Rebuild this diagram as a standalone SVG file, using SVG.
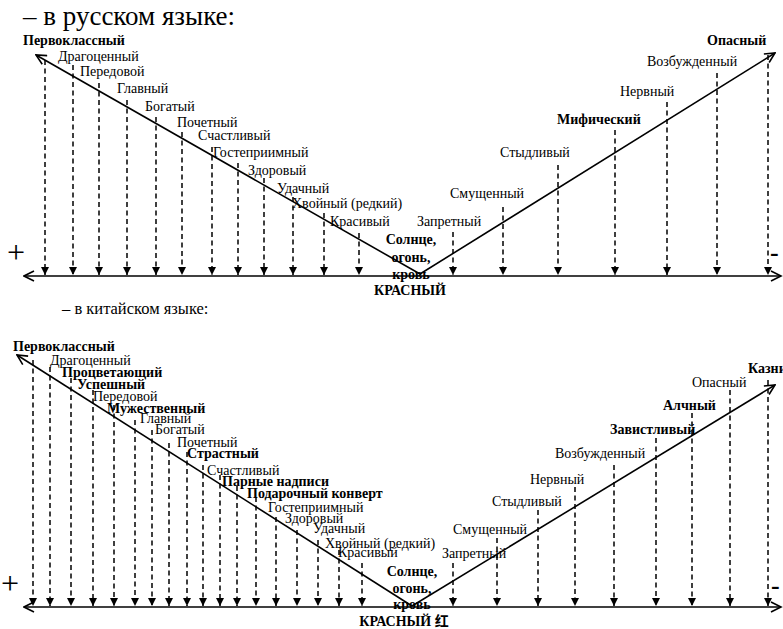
<svg xmlns="http://www.w3.org/2000/svg" width="783" height="629" viewBox="0 0 783 629">
<defs>
<marker id="tri" viewBox="0 0 10 10" refX="10" refY="5" markerWidth="9" markerHeight="8" markerUnits="userSpaceOnUse" orient="auto"><path d="M0,0 L10,5 L0,10 z" fill="#000"/></marker>
<marker id="open" viewBox="0 0 12 12" refX="11" refY="6" markerWidth="13" markerHeight="12" markerUnits="userSpaceOnUse" orient="auto-start-reverse"><path d="M1,1 L11,6 L1,11" fill="none" stroke="#000" stroke-width="1.6"/></marker>
</defs>
<style>
text{font-family:"Liberation Serif","Times New Roman",serif;fill:#000;font-size:14px}
.cjk{font-family:"Noto Sans CJK SC","Liberation Serif",serif}
.b{font-weight:bold}
.c{text-anchor:middle}
.pm{font-size:32px}
.d{stroke:#000;stroke-width:1.5;stroke-dasharray:5 3.5;marker-end:url(#tri)}
.s{stroke:#000;stroke-width:1.6;fill:none}
.a{marker-end:url(#open)}
.ax{marker-start:url(#open);marker-end:url(#open)}
</style>
<rect width="783" height="629" fill="#fff"/>
<text x="23" y="25" style="font-size:27px">– в русском языке:</text>
<text x="62" y="314" style="font-size:16.5px">– в китайском языке:</text>
<g id="connectors">
<line class="s ax" x1="24" y1="276" x2="781" y2="276"/>
<polyline class="s a" points="420,274 36,55"/>
<polyline class="s a" points="420,274 775,53"/>
<line class="s ax" x1="24" y1="607" x2="781" y2="607"/>
<polyline class="s a" points="412,606 17,355"/>
<polyline class="s a" points="412,606 775,385"/>
<g id="top-drops">
<line class="d" x1="45" y1="60" x2="45" y2="275"/>
<line class="d" x1="73" y1="65" x2="73" y2="275"/>
<line class="d" x1="99" y1="83" x2="99" y2="275"/>
<line class="d" x1="127" y1="100" x2="127" y2="275"/>
<line class="d" x1="156" y1="117" x2="156" y2="275"/>
<line class="d" x1="182" y1="132" x2="182" y2="275"/>
<line class="d" x1="212" y1="147" x2="212" y2="275"/>
<line class="d" x1="238" y1="163" x2="238" y2="275"/>
<line class="d" x1="264" y1="178" x2="264" y2="275"/>
<line class="d" x1="293" y1="197" x2="293" y2="275"/>
<line class="d" x1="324" y1="213" x2="324" y2="275"/>
<line class="d" x1="359" y1="233" x2="359" y2="275"/>
<line class="d" x1="453" y1="232" x2="453" y2="275"/>
<line class="d" x1="503" y1="207" x2="503" y2="275"/>
<line class="d" x1="558" y1="165" x2="558" y2="275"/>
<line class="d" x1="615" y1="130" x2="615" y2="275"/>
<line class="d" x1="667" y1="102" x2="667" y2="275"/>
<line class="d" x1="717" y1="73" x2="717" y2="275"/>
<line class="d" x1="768" y1="55" x2="768" y2="275"/>
</g>
<g id="bottom-drops">
<line class="d" x1="33" y1="360" x2="33" y2="606"/>
<line class="d" x1="50" y1="367" x2="50" y2="606"/>
<line class="d" x1="71" y1="378" x2="71" y2="606"/>
<line class="d" x1="93" y1="390" x2="93" y2="606"/>
<line class="d" x1="114" y1="405" x2="114" y2="606"/>
<line class="d" x1="135" y1="420" x2="135" y2="606"/>
<line class="d" x1="152" y1="430" x2="152" y2="606"/>
<line class="d" x1="169" y1="443" x2="169" y2="606"/>
<line class="d" x1="187" y1="452" x2="187" y2="606"/>
<line class="d" x1="203" y1="465" x2="203" y2="606"/>
<line class="d" x1="220" y1="475" x2="220" y2="606"/>
<line class="d" x1="237" y1="486" x2="237" y2="606"/>
<line class="d" x1="256" y1="497" x2="256" y2="606"/>
<line class="d" x1="276" y1="517" x2="276" y2="606"/>
<line class="d" x1="297" y1="530" x2="297" y2="606"/>
<line class="d" x1="318" y1="540" x2="318" y2="606"/>
<line class="d" x1="339" y1="550" x2="339" y2="606"/>
<line class="d" x1="362" y1="563" x2="362" y2="606"/>
<line class="d" x1="453" y1="563" x2="453" y2="606"/>
<line class="d" x1="497" y1="538" x2="497" y2="606"/>
<line class="d" x1="538" y1="510" x2="538" y2="606"/>
<line class="d" x1="575" y1="487" x2="575" y2="606"/>
<line class="d" x1="614" y1="465" x2="614" y2="606"/>
<line class="d" x1="656" y1="438" x2="656" y2="606"/>
<line class="d" x1="692" y1="413" x2="692" y2="606"/>
<line class="d" x1="730" y1="390" x2="730" y2="606"/>
<line class="d" x1="768" y1="380" x2="768" y2="606"/>
</g>
</g>
<g id="top-labels">
<text x="7" y="263" class="pm">+</text>
<text x="770" y="261" class="b" style="font-size:26px">-</text>
<text x="23" y="45" class="b">Первоклассный</text>
<text x="58" y="61">Драгоценный</text>
<text x="80" y="76">Передовой</text>
<text x="117" y="93">Главный</text>
<text x="145" y="111">Богатый</text>
<text x="177" y="127">Почетный</text>
<text x="198" y="140">Счастливый</text>
<text x="213" y="157">Гостеприимный</text>
<text x="248" y="175">Здоровый</text>
<text x="277" y="193">Удачный</text>
<text x="292" y="208">Хвойный (редкий)</text>
<text x="330" y="226">Красивый</text>
<text x="411" y="244" class="b c">Солнце,</text>
<text x="411" y="262" class="b c">огонь,</text>
<text x="411" y="279" class="b c">кровь</text>
<text x="410" y="295" class="b c">КРАСНЫЙ</text>
<text x="417" y="226">Запретный</text>
<text x="450" y="198">Смущенный</text>
<text x="500" y="157">Стыдливый</text>
<text x="557" y="124" class="b">Мифический</text>
<text x="620" y="96">Нервный</text>
<text x="647" y="66">Возбужденный</text>
<text x="707" y="45" class="b">Опасный</text>
</g>
<g id="bottom-labels">
<text x="1" y="594" class="pm">+</text>
<text x="771" y="594" class="b" style="font-size:26px">-</text>
<text x="13" y="351" class="b">Первоклассный</text>
<text x="50" y="365">Драгоценный</text>
<text x="62" y="377" class="b">Процветающий</text>
<text x="77" y="389" class="b">Успешный</text>
<text x="93" y="401">Передовой</text>
<text x="107" y="413" class="b">Мужественный</text>
<text x="140" y="423">Главный</text>
<text x="155" y="434">Богатый</text>
<text x="177" y="447">Почетный</text>
<text x="187" y="458" class="b">Страстный</text>
<text x="207" y="475">Счастливый</text>
<text x="222" y="486" class="b">Парные надписи</text>
<text x="247" y="498" class="b">Подарочный конверт</text>
<text x="268" y="512">Гостеприимный</text>
<text x="285" y="523">Здоровый</text>
<text x="313" y="533">Удачный</text>
<text x="325" y="548">Хвойный (редкий)</text>
<text x="338" y="557">Красивый</text>
<text x="412" y="576" class="b c">Солнце,</text>
<text x="412" y="593" class="b c">огонь,</text>
<text x="412" y="609" class="b c">кровь</text>
<text x="404" y="626" class="b c">КРАСНЫЙ <tspan class="cjk">红</tspan></text>
<text x="442" y="558">Запретный</text>
<text x="453" y="534">Смущенный</text>
<text x="492" y="506">Стыдливый</text>
<text x="530" y="484">Нервный</text>
<text x="555" y="458">Возбужденный</text>
<text x="610" y="434" class="b">Завистливый</text>
<text x="663" y="410" class="b">Алчный</text>
<text x="692" y="387">Опасный</text>
<text x="748" y="373" class="b">Казни</text>
</g>
</svg>
